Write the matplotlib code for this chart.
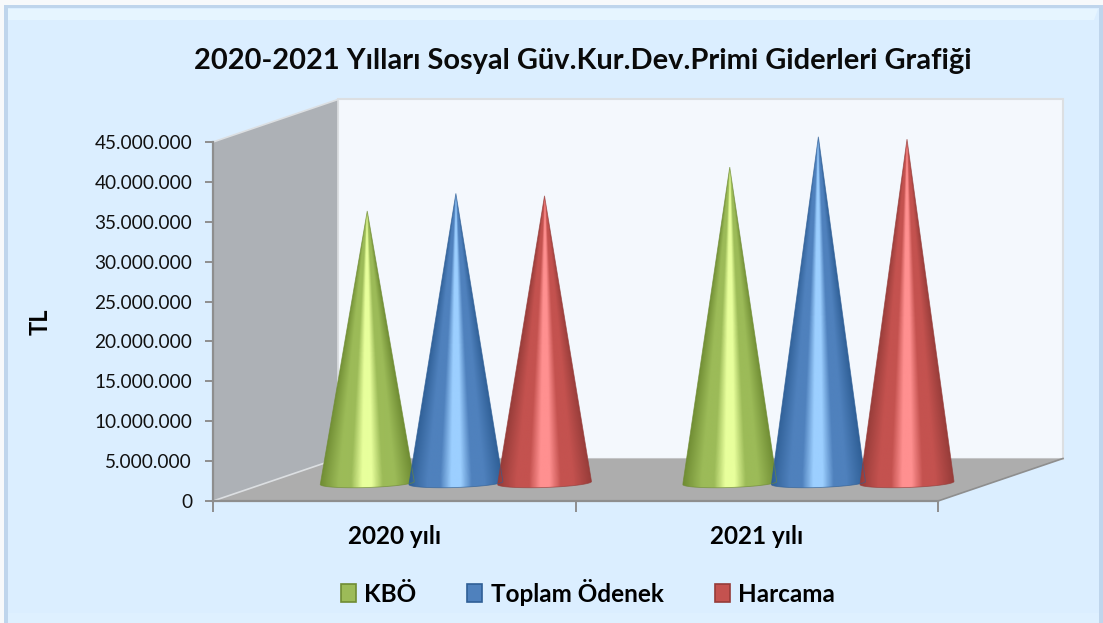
import numpy as np
import matplotlib
matplotlib.use("Agg")
import matplotlib.pyplot as plt
from matplotlib.colors import LinearSegmentedColormap
from matplotlib.patches import Polygon, Patch, Rectangle
from matplotlib.ticker import FuncFormatter

plt.rcParams['font.family'] = ['Lato', 'DejaVu Sans']

# data
years = ["2020 yılı", "2021 yılı"]
series = ["KBÖ", "Toplam Ödenek", "Harcama"]
kbo = [34100000, 39600000]
odenek = [36300000, 43400000]
harcama = [36000000, 43100000]
title = "2020-2021 Yılları Sosyal Güv.Kur.Dev.Primi Giderleri Grafiği"

W, H = 1103, 623
fig = plt.figure(figsize=(W / 100, H / 100), dpi=100, facecolor="#f7f9fb")

# frame, in pixels
bg = fig.add_axes([0, 0, 1, 1], zorder=0)
bg.set_xlim(0, W)
bg.set_ylim(H, 0)
bg.axis("off")
bg.add_patch(Rectangle((4, 5), W - 4, H - 5, fc="#bfd5ec", ec="none"))
bg.add_patch(Rectangle((8, 8), W - 12, H - 8, fc="#dbeeff", ec="none"))
bg.add_patch(Polygon([(8, 9), (W - 5, 9), (W - 9, 20), (8, 20)], fc="#e6f5ff", ec="none"))
bg.add_patch(Rectangle((8, 613), W - 12, 10, fc="#def0ff", ec="none"))

# plot area is the front of the 3d box
ax = fig.add_axes([213 / W, 1 - 501 / H, 725 / W, 359 / H], zorder=1)
ax.patch.set_alpha(0)
ax.set_xlim(0, 2)
ax.set_ylim(0, 45000000)
ax.set_autoscale_on(False)
dx = 125 / 362.5
dy = 42.5 / 359 * 45000000
ymax = 45000000

# walls and floor
ax.add_patch(Polygon([(dx, dy), (2 + dx, dy), (2 + dx, ymax + dy), (dx, ymax + dy)],
                     fc="#f4f8fd", ec="#dcdfe2", lw=1.5, clip_on=False, zorder=1))
ax.add_patch(Polygon([(0, 0), (dx, dy), (2 + dx, dy), (2, 0)],
                     fc="#adadad", ec="none", clip_on=False, zorder=2))
ax.add_patch(Polygon([(0, 0), (dx, dy), (dx, ymax + dy), (0, ymax)],
                     fc="#adb1b6", ec="none", clip_on=False, zorder=3))
ax.plot([0, dx, dx, 0], [0, dy, ymax + dy, ymax], color="#dcdfe2", lw=1.2, clip_on=False, zorder=3)
ax.plot([2, 2 + dx], [0, dy], color="#8e8e8e", lw=1.2, clip_on=False, zorder=3)


def cone(xc, value, low, mid, high):
    # base sits part way into the depth of the box
    y0 = 18 / 359 * ymax
    hw = 47 / 362.5
    ry = 4.5 / 359 * ymax
    tilt = 1.5 / 359 * ymax
    cmap = LinearSegmentedColormap.from_list("c", [
        (0, low), (0.2, mid), (0.33, mid), (0.45, high), (0.55, high), (0.67, mid), (0.8, mid), (1, low)])
    top = y0 + value
    xs = np.linspace(-1, 1, 240)
    ys = np.linspace(1, -0.04, 420)
    X, Y = np.meshgrid(xs, ys)
    u = X / np.maximum(1 - Y.clip(0, 1) * 0.985, 0.015)
    img = ax.imshow((u.clip(-1, 1) + 1) / 2, cmap=cmap, vmin=0, vmax=1, aspect="auto",
                    extent=[xc - hw, xc + hw, y0 - ry * 1.6, top], zorder=5, interpolation="bilinear")
    t = np.linspace(np.pi, 2 * np.pi, 40)
    pts = [(xc, top)] + list(zip(xc + hw * np.cos(t), y0 + ry * np.sin(t) + tilt * np.cos(t)))
    ax.add_patch(Polygon(pts, fc="none", ec=low, lw=0.6, alpha=0.7, clip_on=False, zorder=6))
    img.set_clip_path(Polygon(pts, transform=ax.transData))
    img.set_clip_box(fig.bbox)


styles = [("#6f8c33", "#9cbb58", "#e8ff9c"),
          ("#2f5f96", "#4f81bd", "#9ccfff"),
          ("#963c39", "#c4524f", "#ff9090")]
for i, values in enumerate([kbo, odenek, harcama]):
    for j, v in enumerate(values):
        cone(j + 0.4255 + i * 0.2445, v, *styles[i])

# axes
for s in ["top", "right"]:
    ax.spines[s].set_visible(False)
for s in ["left", "bottom"]:
    ax.spines[s].set_color("#8e8e8e")
    ax.spines[s].set_linewidth(1.6)
    ax.spines[s].set_zorder(7)
ax.set_yticks(np.arange(0, 45000001, 5000000))
ax.yaxis.set_major_formatter(FuncFormatter(lambda v, p: f"{int(v):,}".replace(",", ".")))
ax.tick_params(axis="y", length=6, width=1.4, color="#8e8e8e", labelsize=13.7, pad=9, labelcolor="#111111")
ax.set_xticks([0, 1, 2])
ax.set_xticklabels([])
ax.set_xticks([0.5, 1.5], labels=years, minor=True)
ax.tick_params(axis="x", which="major", length=8, width=1.4, color="#8e8e8e")
ax.tick_params(axis="x", which="minor", length=0, labelsize=17.5, pad=17)
for lab in ax.get_xticklabels(minor=True):
    lab.set_fontweight("bold")

ax.set_ylabel("TL", fontsize=17, fontweight="bold", labelpad=0)
ax.yaxis.set_label_coords((52 - 213) / 725, (501 - 322) / 359)
fig.text(583 / W, 1 - 61 / H, title, ha="center", va="center", fontsize=20.9, fontweight="bold", color="#0a0a0a")

handles = [Patch(fc=s[1], ec=s[0], lw=1.2, label=n) for s, n in zip(styles, series)]
leg = fig.legend(handles=handles, loc="center", bbox_to_anchor=(588 / W, 1 - 592 / H), ncol=3, frameon=False,
                 prop={"size": 17.5, "weight": "bold"}, handlelength=0.62, handleheight=0.7,
                 handletextpad=0.35, columnspacing=2.1)

fig.savefig("out.png", dpi=100, facecolor=fig.get_facecolor())
